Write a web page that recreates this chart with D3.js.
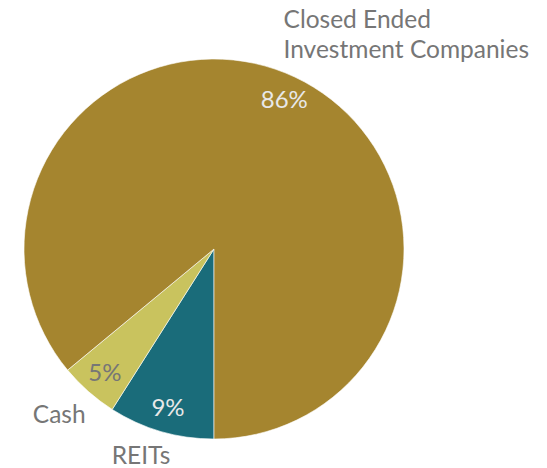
<!DOCTYPE html>
<html>
<head>
<meta charset="utf-8">
<script src="https://cdn.jsdelivr.net/npm/d3@7"></script>
<style>
  body { margin: 0; background: #fff; }
  text { font-family: Lato, "Open Sans", sans-serif; }
</style>
</head>
<body>
<div id="chart"></div>
<script>
// slice data, in drawing order (starting at 6 o'clock, clockwise)
var categories = ["REITs", "Cash", "Closed Ended Investment Companies"];
var shares = [9, 5, 86];
var colors = ["#1a6c7a", "#c9c35e", "#a5852f"];
var pctLabels = ["9%", "5%", "86%"];

var width = 547, height = 468;
var cx = 214, cy = 249, radius = 190;

var svg = d3.select("#chart").append("svg")
  .attr("width", width)
  .attr("height", height);

var g = svg.append("g")
  .attr("transform", "translate(" + cx + "," + cy + ")");

var pie = d3.pie()
  .sort(null)
  .startAngle(Math.PI)
  .endAngle(3 * Math.PI)
  .value(function(d) { return d; });

var arcs = pie(shares);

var arc = d3.arc().innerRadius(0).outerRadius(radius);
var pctArc = d3.arc().innerRadius(165).outerRadius(165);
var nameArc = d3.arc().innerRadius(222).outerRadius(222);

// slices
g.selectAll("path")
  .data(arcs)
  .enter().append("path")
    .attr("d", arc)
    .style("fill", function(d, i) { return colors[i]; })
    .style("stroke", "#ffffff")
    .style("stroke-width", 0.6);

// percent labels inside the slices
g.selectAll(".pct")
  .data(arcs)
  .enter().append("text")
    .attr("class", "pct")
    .attr("transform", function(d) { return "translate(" + pctArc.centroid(d) + ")"; })
    .attr("dy", "0.36em")
    .attr("text-anchor", "middle")
    .style("font-size", "24px")
    .style("fill", function(d, i) { return i === 1 ? "#767676" : "#e8e8e8"; })
    .text(function(d, i) { return pctLabels[i]; });

// category labels outside, nudged like the original
var nudges = [[-11, -7], [-8, -1], [99, -14]];
var nameLines = [["REITs"], ["Cash"], ["Closed Ended", "Investment Companies"]];

var names = g.selectAll(".name")
  .data(arcs)
  .enter().append("text")
    .attr("class", "name")
    .attr("transform", function(d, i) {
      var c = nameArc.centroid(d);
      return "translate(" + (c[0] + nudges[i][0]) + "," + (c[1] + nudges[i][1]) + ")";
    })
    .attr("text-anchor", "middle")
    .style("font-size", "24.5px")
    .style("fill", "#767676");

names.each(function(d, i) {
  var lines = nameLines[i];
  var t = d3.select(this);
  lines.forEach(function(line, j) {
    t.append("tspan")
      .attr("x", 0)
      .attr("dy", j === 0 ? (0.36 - (lines.length - 1) * 0.6) + "em" : "1.2em")
      .text(line);
  });
});

// left-align the two-line label like the original
names.filter(function(d, i) { return i === 2; })
  .attr("text-anchor", "start")
  .selectAll("tspan").attr("x", -124);
</script>
</body>
</html>
